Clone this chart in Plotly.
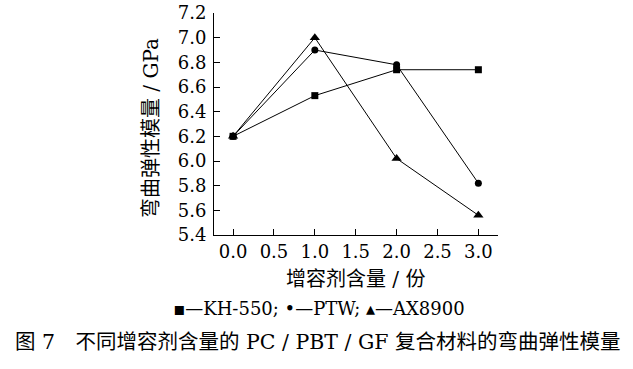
import plotly.graph_objects as go

x_vals = [0.0, 1.0, 2.0, 3.0]
kh550 = [6.20, 6.53, 6.74, 6.74]
ptw = [6.20, 6.90, 6.78, 5.82]
ax8900 = [6.20, 7.00, 6.02, 5.56]

x_ticks = [0.0, 0.5, 1.0, 1.5, 2.0, 2.5, 3.0]
y_ticks = [5.4, 5.6, 5.8, 6.0, 6.2, 6.4, 6.6, 6.8, 7.0, 7.2]

serif = "DejaVu Serif, Liberation Serif, serif"
mixed = "DejaVu Serif, Noto Sans CJK SC, serif"

X0, Y0 = 214, 13          # plot-area top-left in the screenshot
PW, PH = 284, 222
L, T = X0, Y0
W, H = 633, 369

fig = go.Figure()
series = [("KH-550", kh550, "square", 7), ("PTW", ptw, "circle", 7), ("AX8900", ax8900, "triangle-up", 9)]
for name, ys, sym, sz in series:
    fig.add_trace(go.Scatter(
        x=x_vals, y=ys, mode="lines+markers", name=name,
        line=dict(color="black", width=1),
        marker=dict(symbol=sym, size=sz, color="black"),
        showlegend=False,
    ))

fig.update_layout(
    width=W, height=H,
    margin=dict(l=L, r=W - L - PW, t=T, b=H - T - PH, autoexpand=False),
    paper_bgcolor="white", plot_bgcolor="white",
    font=dict(family=serif, color="black", size=18),
)
fig.update_xaxes(
    range=[-0.233, 3.24], tickvals=x_ticks, ticktext=[f"{v:.1f}" for v in x_ticks],
    showgrid=False, zeroline=False, showline=True, linecolor="black", linewidth=1,
    ticks="inside", ticklen=6, tickcolor="black", ticklabeloverflow="allow",
    tickfont=dict(family=serif, size=18),
)
fig.update_yaxes(
    range=[5.4, 7.2], tickvals=y_ticks, ticktext=[f"{v:.1f}" for v in y_ticks],
    showgrid=False, zeroline=False, showline=True, linecolor="black", linewidth=1,
    ticks="inside", ticklen=6, tickcolor="black", ticklabeloverflow="allow",
    tickfont=dict(family=serif, size=18), ticklabelstandoff=3,
)


def px(xp):
    return (xp - X0) / PW


def py(yp):
    return 1 - (yp - Y0) / PH


fig.add_annotation(
    xref="paper", yref="paper", x=px(151), y=py(128),
    text="弯曲弹性模量 / GPa", textangle=-90, showarrow=False,
    font=dict(family=mixed, size=20), xanchor="center", yanchor="middle",
)
fig.add_annotation(
    xref="paper", yref="paper", x=px(355), y=py(279),
    text="增容剂含量 / 份", showarrow=False,
    font=dict(family=mixed, size=20), xanchor="center", yanchor="middle",
)
fig.add_annotation(
    xref="paper", yref="paper", x=px(319), y=py(308),
    text="▪—KH-550; •—PTW; ▴—AX8900", showarrow=False,
    font=dict(family=mixed, size=18), xanchor="center", yanchor="middle",
)
fig.add_annotation(
    xref="paper", yref="paper", x=px(318), y=py(342),
    text="图 7　不同增容剂含量的 PC / PBT / GF 复合材料的弯曲弹性模量", showarrow=False,
    font=dict(family=mixed, size=20.5), xanchor="center", yanchor="middle",
)

fig.write_html(
    "out.html",
    config={"displayModeBar": False},
    post_script="document.body.style.margin='0px';document.body.style.overflow='hidden';",
)
